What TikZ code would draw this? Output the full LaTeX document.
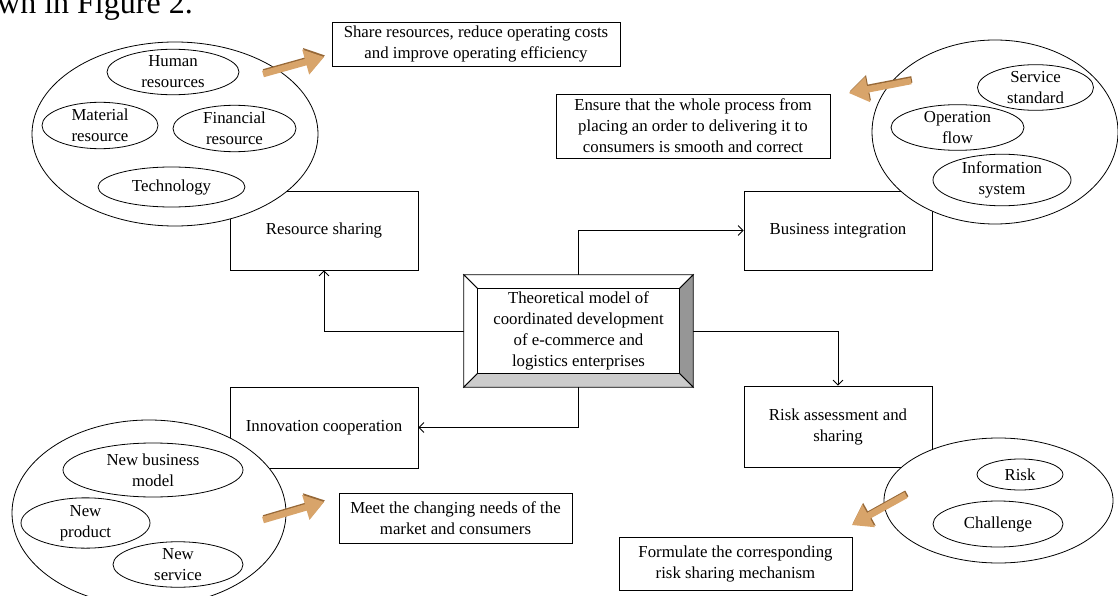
\documentclass[tikz,border=0pt]{standalone}
\usepackage{fontspec}
\setmainfont{Liberation Serif}
\usetikzlibrary{shapes.geometric,arrows.meta,calc}
\definecolor{tan}{RGB}{216,164,106}
\definecolor{tandark}{RGB}{150,104,55}
\definecolor{bevdark}{RGB}{150,150,150}
\definecolor{bevlight}{RGB}{204,204,204}
\newcommand\blockarrow[7]{%
  \fill[tandark, shift={(0.8pt,1.6pt)}] (#1) -- (#2) -- (#3) -- (#4) -- (#5) -- (#6) -- (#7) -- cycle;
  \fill[tan] (#1) -- (#2) -- (#3) -- (#4) -- (#5) -- (#6) -- (#7) -- cycle;
}
\begin{document}
\begin{tikzpicture}[x=1pt,y=-1pt,
  txt/.style={font=\fontsize{16.8}{21}\selectfont, align=center, inner sep=0pt},
  box/.style={txt, draw, line width=0.8pt, rectangle, fill=white},
  bigell/.style={draw, ellipse, line width=0.8pt, fill=white, inner sep=0pt},
  smell/.style={txt, draw, ellipse, line width=0.8pt, inner sep=0pt},
  conn/.style={line width=0.8pt, -{Straight Barb[length=5pt,width=10pt]}}
]
\useasboundingbox (0,0) rectangle (1118,596);
\clip (0,0) rectangle (1118,596);

% cut-off caption text
\node[anchor=base west, inner sep=0pt, font=\fontsize{32}{36}\selectfont] (cap) at (-3,14) {wn in Figure 2.};

% centre box (bevel)
\node[rectangle, minimum width=229pt, minimum height=112pt, inner sep=0pt] (c) at (578.5,331) {};
\coordinate (i-nw) at ($(c.north west)+(14,14)$);
\coordinate (i-ne) at ($(c.north east)+(-14,14)$);
\coordinate (i-se) at ($(c.south east)+(-14,-14)$);
\coordinate (i-sw) at ($(c.south west)+(14,-14)$);

% main boxes
\node[box, minimum width=188pt, minimum height=79pt] (rs) at (324,230.5) {Resource sharing};
\node[box, minimum width=188pt, minimum height=79pt] (bi) at (838,230.5) {Business integration};
\node[box, minimum width=188pt, minimum height=81pt] (ra) at (838,426.5) {Risk assessment and\\sharing};
\node[box, minimum width=188pt, minimum height=81pt] (ic) at (324,427.5) {Innovation cooperation};

% connectors
\draw[conn] (c.west) -| (rs.south);
\draw[conn] (c.north) |- (bi.west);
\draw[conn] (c.east) -| (ra.north);
\draw[conn] (c.south) |- (ic.east);

% bevel drawing
\begin{scope}[line width=0.8pt, line join=miter]
\filldraw[fill=white] (c.north west) -- (c.north east) -- (i-ne) -- (i-nw) -- cycle;
\filldraw[fill=white] (c.north west) -- (i-nw) -- (i-sw) -- (c.south west) -- cycle;
\filldraw[fill=bevdark] (c.north east) -- (c.south east) -- (i-se) -- (i-ne) -- cycle;
\filldraw[fill=bevlight] (c.south west) -- (c.south east) -- (i-se) -- (i-sw) -- cycle;
\filldraw[fill=white] (i-nw) rectangle (i-se);
\end{scope}
\node[txt] (ct) at (578.5,331) {Theoretical model of\\coordinated development\\of e-commerce and\\logistics enterprises};

% top-left cluster
\node[bigell, minimum width=286pt, minimum height=184pt] (e1) at (175,134) {};
\node[smell, minimum width=132pt, minimum height=44pt] (hr) at (173,72) {Human\\resources};
\node[smell, minimum width=116pt, minimum height=45pt] (mr) at (100,125.5) {Material\\resource};
\node[smell, minimum width=123pt, minimum height=46pt] (fr) at (234.5,128.5) {Financial\\resource};
\node[smell, minimum width=147pt, minimum height=40pt] (te) at (171.5,187) {Technology};

% top-right cluster
\node[bigell, minimum width=246pt, minimum height=184pt] (e2) at (995,132) {};
\node[smell, minimum width=116pt, minimum height=45pt] (ss) at (1035.5,87.5) {Service\\standard};
\node[smell, minimum width=133pt, minimum height=45pt] (of) at (957.5,127.5) {Operation\\flow};
\node[smell, minimum width=138pt, minimum height=46pt] (is) at (1002,180) {Information\\system};

% bottom-left cluster
\node[bigell, minimum width=274pt, minimum height=186pt] (e3) at (149,513) {};
\node[smell, minimum width=180pt, minimum height=54pt] (nb) at (153,470) {New business\\model};
\node[smell, minimum width=129pt, minimum height=44pt] (np) at (85.5,523) {New\\product};
\node[smell, minimum width=130pt, minimum height=45pt] (ns) at (178,564.5) {New\\service};

% bottom-right cluster
\node[bigell, minimum width=229pt, minimum height=125pt] (e4) at (998.5,500.5) {};
\node[smell, minimum width=86pt, minimum height=31pt] (rk) at (1020,474.5) {Risk};
\node[smell, minimum width=130pt, minimum height=46pt] (ch) at (998,524) {Challenge};

% outcome boxes
\node[box, minimum width=288pt, minimum height=44pt] (o1) at (476,44) {Share resources, reduce operating costs\\and improve operating efficiency};
\node[box, minimum width=274pt, minimum height=64pt] (o2) at (693,126) {Ensure that the whole process from\\placing an order to delivering it to\\consumers is smooth and correct};
\node[box, minimum width=233pt, minimum height=50pt] (o3) at (455.5,518) {Meet the changing needs of the\\market and consumers};
\node[box, minimum width=233pt, minimum height=53pt] (o4) at (735.5,563.5) {Formulate the corresponding\\risk sharing mechanism};

% orange block arrows
\blockarrow{263.9,77.2}{306.6,65.3}{309.2,74.6}{324,57}{302.2,49.6}{304.8,58.9}{262.1,70.8}
\blockarrow{910.4,77.8}{867.0,86.2}{865.2,76.6}{849,93}{870.2,102.2}{868.3,92.6}{911.6,84.2}
\blockarrow{263.9,523.2}{306.7,510.6}{309.5,519.9}{324,502}{302.1,494.9}{304.9,504.2}{262.1,516.8}
\blockarrow{904.4,492.1}{867.0,512.9}{862.3,504.4}{852,525}{874.9,527.2}{870.2,518.7}{907.6,497.9}
\end{tikzpicture}
\end{document}
